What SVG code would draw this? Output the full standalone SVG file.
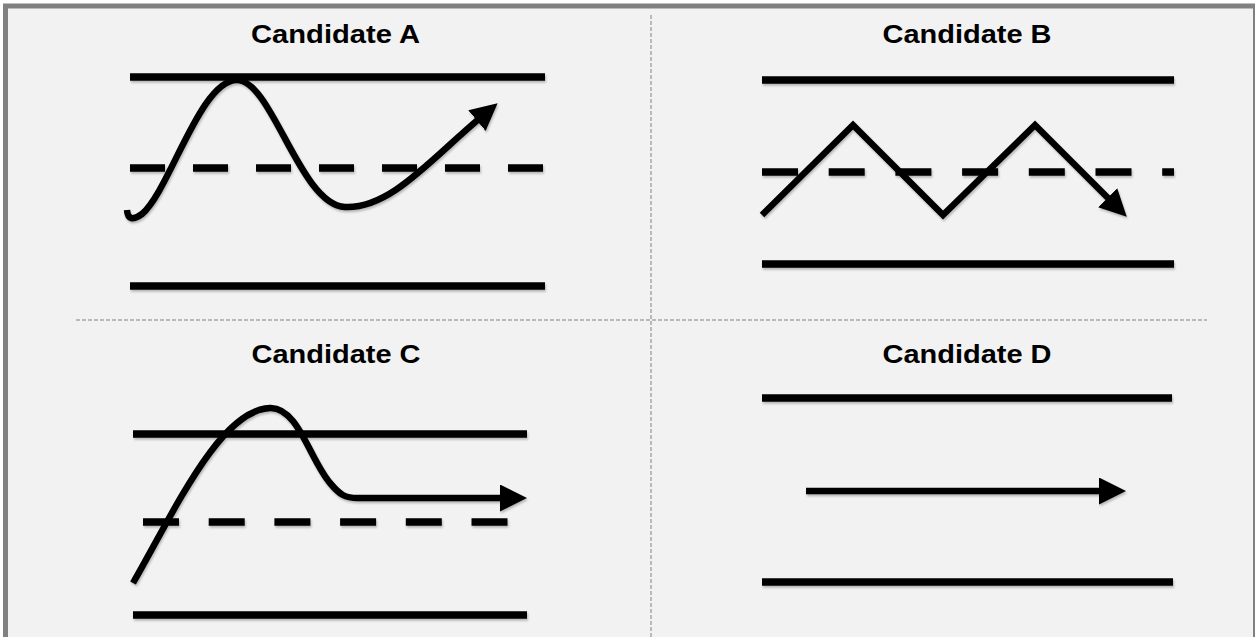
<svg xmlns="http://www.w3.org/2000/svg" width="1255" height="637" viewBox="0 0 1255 637">
<defs>
<style>
.title{font-family:"Liberation Sans",Arial,sans-serif;font-weight:bold;font-size:26px;fill:#000;text-anchor:middle}
.solid{stroke:#000;stroke-width:7.5;fill:none}
.dash{stroke:#000;stroke-width:7.5;fill:none}
.curve{stroke:#000;stroke-width:6.5;fill:none;stroke-linejoin:miter;stroke-miterlimit:10}
.divider{stroke:#a6a6a6;stroke-width:1.5;stroke-dasharray:4 2;fill:none}
</style>
<filter id="sh" x="-10%" y="-30%" width="120%" height="160%">
<feDropShadow dx="1" dy="2" stdDeviation="1.2" flood-color="#000" flood-opacity="0.25"/>
</filter>
<marker id="ah" viewBox="0 0 27 27" markerWidth="27" markerHeight="27" refX="4" refY="13.5" orient="auto" markerUnits="userSpaceOnUse">
<path d="M0,0 L27,13.5 L0,27 z" fill="#000"/>
</marker>
</defs>
<rect x="0" y="0" width="1255" height="637" fill="#ffffff"/>
<rect x="5.5" y="6" width="1250" height="640" fill="#f2f2f2" stroke="#808080" stroke-width="5"/>

<g id="dividers">
<line class="divider" x1="651" y1="15" x2="651" y2="637"/>
<line class="divider" x1="76" y1="320" x2="1207" y2="320"/>
</g>

<g id="candidate-a">
<text class="title" x="335.5" y="43" textLength="169" lengthAdjust="spacingAndGlyphs">Candidate A</text>
<g filter="url(#sh)">
<line class="solid" x1="130" y1="77" x2="545" y2="77"/>
<line class="dash" x1="130" y1="168" x2="543" y2="168" stroke-dasharray="35 28"/>
<line class="solid" x1="130" y1="286" x2="545" y2="286"/>
<path class="curve" d="M127,210 Q128,224 142,214 C170,190 200,80 237,80 C272,80 300,205 345,207 C390,209 430,160 480,118" marker-end="url(#ah)"/>
</g>
</g>

<g id="candidate-b">
<text class="title" x="967" y="43" textLength="169" lengthAdjust="spacingAndGlyphs">Candidate B</text>
<g filter="url(#sh)">
<line class="solid" x1="762" y1="80" x2="1174" y2="80"/>
<line class="dash" x1="762" y1="172" x2="1174" y2="172" stroke-dasharray="36 30.7"/>
<line class="solid" x1="762" y1="264" x2="1174" y2="264"/>
<path class="curve" d="M762,215 L853,125 L943,215 L1035,125 L1110.5,200.5" marker-end="url(#ah)"/>
</g>
</g>

<g id="candidate-c">
<text class="title" x="336" y="363" textLength="169" lengthAdjust="spacingAndGlyphs">Candidate C</text>
<g filter="url(#sh)">
<line class="solid" x1="133" y1="434" x2="527" y2="434"/>
<line class="dash" x1="143" y1="522" x2="508" y2="522" stroke-dasharray="36 29.7"/>
<line class="solid" x1="133" y1="615" x2="527" y2="615"/>
<path class="curve" d="M133,583 C175,510 220,410 270,408 C298,407 310,460 330,483 C340,495 345,498 358,498 L504,498" marker-end="url(#ah)"/>
</g>
</g>

<g id="candidate-d">
<text class="title" x="967" y="363" textLength="169" lengthAdjust="spacingAndGlyphs">Candidate D</text>
<g filter="url(#sh)">
<line class="solid" x1="762" y1="398" x2="1172" y2="398"/>
<line class="solid" x1="762" y1="582" x2="1173" y2="582"/>
<path class="curve" d="M806,491 L1103,491" stroke-width="7" marker-end="url(#ah)"/>
</g>
</g>
</svg>
